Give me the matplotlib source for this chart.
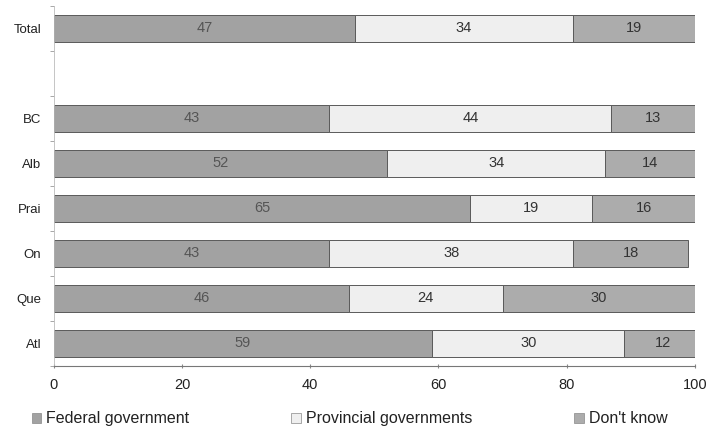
import numpy as np
import matplotlib.pyplot as plt
from matplotlib.patches import Patch

plt.rcParams['font.family'] = ['Liberation Sans', 'DejaVu Sans']

# Survey results, percent per region (blank row separates Total)
regions = ['Total', '', 'BC', 'Alb', 'Prai', 'On', 'Que', 'Atl']
federal = [47, None, 43, 52, 65, 43, 46, 59]
provincial = [34, None, 44, 34, 19, 38, 24, 30]
dont_know = [19, None, 13, 14, 16, 18, 30, 12]
series_names = ['Federal government', 'Provincial governments', "Don't know"]
colors = ['#a2a2a2', '#efefef', '#acacac']
label_colors = ['#555555', '#333333', '#333333']
x_ticks = [0, 20, 40, 60, 80, 100]

fig = plt.figure(figsize=(7.09, 4.30), dpi=100)
ax = fig.add_axes([0.076, 0.149, 0.904, 0.838])

y = np.arange(len(regions))
for i, region in enumerate(regions):
    if federal[i] is None:
        continue
    left = 0
    for vals, col, tcol in zip([federal, provincial, dont_know], colors, label_colors):
        v = vals[i]
        ax.barh(y[i], v, left=left, height=0.6, color=col,
                edgecolor='#5a5a5a', linewidth=0.7)
        ax.text(left + v / 2, y[i], str(v), ha='center', va='center',
                fontsize=10.5, color=tcol)
        left += v

ax.set_xlim(0, 100)
ax.set_ylim(len(regions) - 0.5, -0.5)
ax.set_yticks(y)
ax.set_yticklabels(regions, fontsize=9.5, color='#222222')
ax.set_yticks(np.arange(-0.5, len(regions)), minor=True)
ax.tick_params(axis='y', which='major', length=0, pad=9)
ax.tick_params(axis='y', which='minor', length=3, color='#999999', direction='out')
ax.set_xticks(x_ticks)
ax.set_xticklabels([str(t) for t in x_ticks], fontsize=10.5, color='#222222')
ax.tick_params(axis='x', length=3, color='#888888', direction='inout', pad=7)

for side in ['top', 'right']:
    ax.spines[side].set_visible(False)
ax.spines['left'].set_color('#bbbbbb')
ax.spines['left'].set_linewidth(0.6)
ax.spines['bottom'].set_color('#777777')
ax.spines['bottom'].set_linewidth(0.8)

handles = [Patch(facecolor=c, edgecolor='#888888', linewidth=0.5) for c in colors]
fig.legend(handles, series_names, loc='lower center', ncol=3, frameon=False,
           fontsize=11.5, bbox_to_anchor=(0.493, -0.025), handlelength=0.6,
           handleheight=0.6, handletextpad=0.3, columnspacing=6.4,
           labelcolor='#222222')

fig.savefig('out.png', dpi=100)
